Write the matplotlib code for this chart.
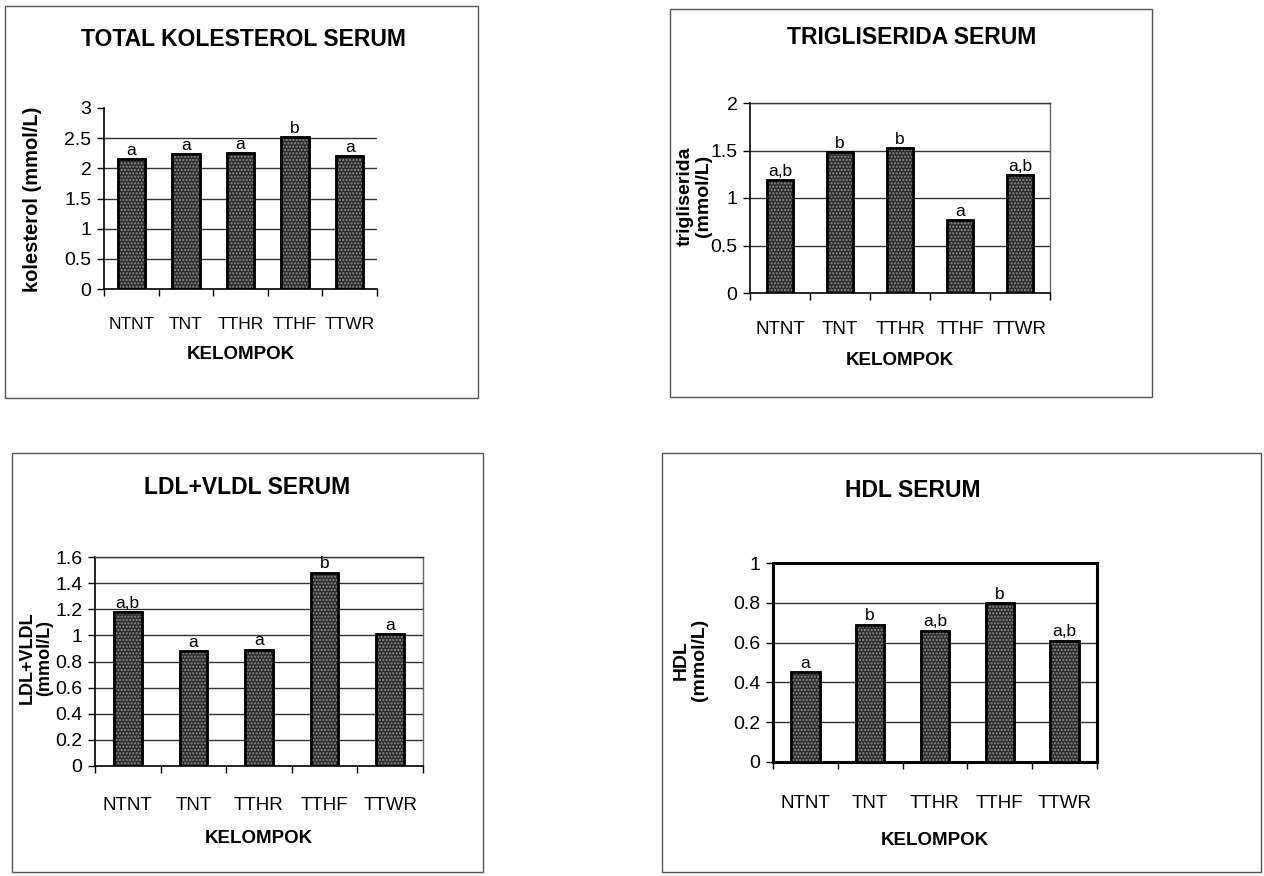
import matplotlib.pyplot as plt
from matplotlib.patches import Rectangle

plt.rcParams['font.family'] = ['Liberation Sans', 'DejaVu Sans']
plt.rcParams['hatch.linewidth'] = 1.0

groups = ['NTNT', 'TNT', 'TTHR', 'TTHF', 'TTWR']

kolesterol = [2.15, 2.24, 2.26, 2.52, 2.21]
kolesterol_sig = ['a', 'a', 'a', 'b', 'a']

trigliserida = [1.19, 1.48, 1.53, 0.77, 1.24]
trigliserida_sig = ['a,b', 'b', 'b', 'a', 'a,b']

ldl_vldl = [1.18, 0.88, 0.89, 1.48, 1.01]
ldl_vldl_sig = ['a,b', 'a', 'a', 'b', 'a']

hdl = [0.45, 0.69, 0.66, 0.80, 0.61]
hdl_sig = ['a', 'b', 'a,b', 'b', 'a,b']

fig = plt.figure(figsize=(12.64, 8.76), dpi=100)
W, H = 1264.0, 876.0


def px(x0, y0, x1, y1):
    # pixel box (top-left origin) -> figure fraction rect
    return [x0 / W, 1 - y1 / H, (x1 - x0) / W, (y1 - y0) / H]


# outer frames of the four panels
for x0, y0, x1, y1 in [(5, 6, 478, 398), (670, 9, 1152, 397),
                       (12, 453, 483, 872), (662, 453, 1261, 872)]:
    r = px(x0, y0, x1, y1)
    fig.patches.append(Rectangle((r[0], r[1]), r[2], r[3], transform=fig.transFigure,
                                 fill=False, edgecolor='#555555', lw=1.0))


def panel(rect, values, sig, title, title_xy, ylabel, ylabel_xy, ymax, ystep, width,
          frame='none', xpad=20, xlabpad=10, top_grid=True, xfs=13.5,
          ylfs=14, ylsp=1.1):
    ax = fig.add_axes(px(*rect))
    x = range(len(groups))
    ax.bar(x, values, width=width, facecolor='#2e2e2e', edgecolor='black',
           linewidth=1.8, zorder=3)
    ax.bar(x, values, width=width, fill=False, edgecolor='#8c8c8c', hatch='.....',
           linewidth=0, zorder=4)
    ax.bar(x, values, width=width, fill=False, edgecolor='black', linewidth=1.8, zorder=5)
    for i, (v, s) in enumerate(zip(values, sig)):
        ax.text(i, v + ymax * 0.006, s, ha='center', va='bottom', fontsize=12.5, zorder=6)
    ax.set_xlim(-0.5, len(groups) - 0.5)
    ax.set_ylim(0, ymax)
    ticks = [round(ystep * k, 2) for k in range(int(round(ymax / ystep)) + 1)]
    ax.set_yticks(ticks)
    ax.set_yticklabels(['%g' % t for t in ticks], fontsize=14)
    grid = ticks[1:] if top_grid else ticks[1:-1]
    for t in grid:
        ax.axhline(t, color='#333333', lw=1.0, zorder=1)
    ax.set_xticks(list(x))
    ax.set_xticklabels(groups, fontsize=xfs)
    ax.tick_params(axis='x', length=0, pad=xpad)
    # category boundary ticks as in Excel
    ax.set_xticks([i - 0.5 for i in range(len(groups) + 1)], minor=True)
    ax.tick_params(axis='x', which='minor', length=5, width=1, direction='out')
    ax.tick_params(axis='y', length=5, width=1, direction='out', pad=4)
    ax.set_xlabel('KELOMPOK', fontsize=13.5, fontweight='bold', labelpad=xlabpad)
    for side in ['left', 'bottom']:
        ax.spines[side].set_color('black')
        ax.spines[side].set_linewidth(1.2)
    if frame == 'none':
        ax.spines['top'].set_visible(False)
        ax.spines['right'].set_visible(False)
    elif frame == 'thin':
        ax.spines['top'].set_color('#333333')
        ax.spines['right'].set_color('#666666')
        ax.spines['top'].set_linewidth(1.0)
        ax.spines['right'].set_linewidth(1.0)
    else:
        for side in ax.spines:
            ax.spines[side].set_color('black')
            ax.spines[side].set_linewidth(2.2)
    ax.set_facecolor('none')
    fig.text(title_xy[0] / W, 1 - title_xy[1] / H, title, ha='center', va='center',
             fontsize=16.5, fontweight='bold')
    fig.text(ylabel_xy[0] / W, 1 - ylabel_xy[1] / H, ylabel, ha='center', va='center',
             rotation=90, fontsize=ylfs, fontweight='bold', linespacing=ylsp)
    return ax


panel((104, 108, 377, 289), kolesterol, kolesterol_sig, 'TOTAL KOLESTEROL SERUM',
      (243, 40), 'kolesterol (mmol/L)', (33, 199), 3, 0.5, 0.5, frame='none',
      top_grid=False, xfs=12.5, ylfs=14.5)

panel((750, 103, 1050, 293), trigliserida, trigliserida_sig, 'TRIGLISERIDA SERUM',
      (912, 38), 'trigliserida\n(mmol/L)', (694, 196), 2, 0.5, 0.43, frame='thin')

panel((95, 557, 423, 766), ldl_vldl, ldl_vldl_sig, 'LDL+VLDL SERUM',
      (247, 487), 'LDL+VLDL\n(mmol/L)', (36, 658), 1.6, 0.2, 0.42, frame='thin',
      xpad=22, xlabpad=12, ylfs=13, ylsp=1.0)

panel((773, 563, 1097, 762), hdl, hdl_sig, 'HDL SERUM',
      (913, 490), 'HDL\n(mmol/L)', (690, 660), 1.0, 0.2, 0.44, frame='thick',
      xpad=24, xlabpad=14)

fig.savefig('out.png', dpi=100, facecolor='white')
